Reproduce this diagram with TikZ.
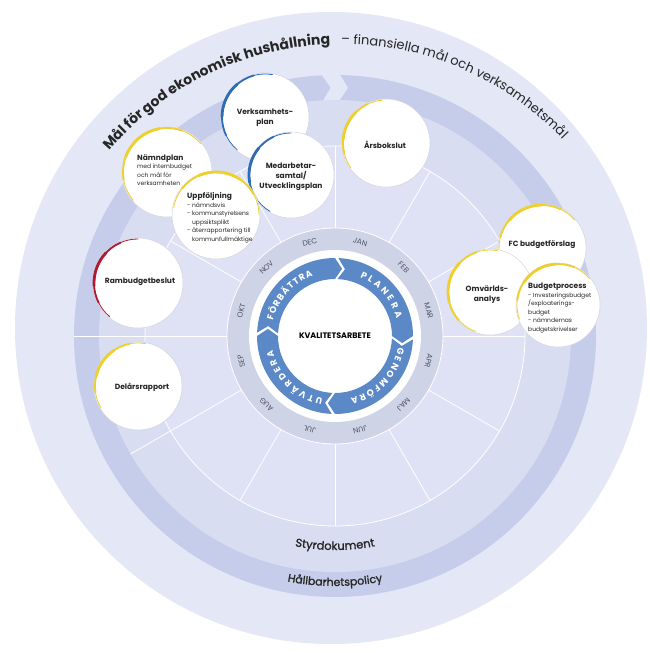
\documentclass[tikz,border=0pt]{standalone}
\usepackage{fontspec}
\setmainfont{Poppins}
\newfontfamily\pmedium[FakeBold=1.3]{Poppins}
\usetikzlibrary{calc,decorations.text}
\definecolor{outerbg}{HTML}{E3E7F6}
\definecolor{bandcol}{HTML}{C5CDEA}
\definecolor{midcol}{HTML}{D8DDF1}
\definecolor{seccol}{HTML}{DEE2F4}
\definecolor{monthcol}{HTML}{CED3E5}
\definecolor{arrowblue}{HTML}{5B88C6}
\definecolor{rimyellow}{HTML}{EFCF2C}
\definecolor{rimblue}{HTML}{2E6CB4}
\definecolor{rimred}{HTML}{B2182F}
\definecolor{rimgrey}{HTML}{D3D5DD}
\definecolor{txt}{HTML}{262626}
\definecolor{monthtxt}{HTML}{4E5466}

\newcommand\rimarc[5]{%
  \pgfmathsetmacro\rimk{(#5-#4)/6}%
  \pgfmathsetmacro\rima{#4+\rimk}%
  \pgfmathsetmacro\rimb{#5-\rimk}%
  \pgfmathsetmacro\rimc{#4+2*\rimk}%
  \pgfmathsetmacro\rimd{#5-2*\rimk}%
  \draw[#3,line width=0.8pt,line cap=round] ($(#1.center)+(#4:#2)$) arc[start angle=#4,end angle=#5,radius=#2];
  \draw[#3,line width=1.8pt,line cap=round] ($(#1.center)+(\rima:#2)$) arc[start angle=\rima,end angle=\rimb,radius=#2];
  \draw[#3,line width=2.8pt,line cap=round] ($(#1.center)+(\rimc:#2)$) arc[start angle=\rimc,end angle=\rimd,radius=#2];
}
\newcommand\arrowseg[2]{%
  \fill[arrowblue] (#1-2.5:78pt) arc[start angle=#1-2.5,end angle=#2,radius=78pt]
    -- (#2-6:67.5pt) -- (#2:57pt) arc[start angle=#2,end angle=#1-2.5,radius=57pt]
    -- (#1-8.5:67.5pt) -- cycle;
}

\begin{document}
\begin{tikzpicture}[x=1pt,y=1pt,
  bubble/.style={circle,fill=white,draw=rimgrey,line width=0.5pt,inner sep=0pt,minimum size=#1},
  btitle/.style={font=\bfseries\fontsize{7.5}{10}\selectfont,text=txt,align=center,inner sep=0pt},
  blist/.style={font=\fontsize{6}{8.5}\selectfont,text=txt,align=left,inner sep=0pt,anchor=west},
  month/.style={font=\fontsize{7.5}{8}\selectfont,text=monthtxt,inner sep=0pt},
  spoke/.style={white,line width=0.8pt}]
\useasboundingbox (0,0) rectangle (649,653);
\fill[white] (0,0) rectangle (649,653);
\fill[outerbg] (331,325) circle[radius=316pt];
\coordinate (C) at (335,317);
\begin{scope}[shift={(C)}]
  \fill[bandcol] (0,0) circle[radius=261pt];
  \fill[outerbg] (93:262pt) -- (91:248.5pt) -- (93:235pt) -- (89:235pt) -- (87:248.5pt) -- (89:262pt) -- cycle;
  \fill[midcol] (0,0) circle[radius=236pt];
  \draw[spoke] (180:190pt) -- (180:261pt);
  \draw[spoke] (210:190pt) -- (210:236pt);
  \fill[seccol] (0,0) circle[radius=190pt];
  \draw[spoke] (0,0) circle[radius=190pt];
  \foreach \a in {0,30,...,330} \draw[spoke] (\a:108pt) -- (\a:190pt);
  \fill[monthcol] (0,0) circle[radius=108pt];
  \draw[spoke] (0,0) circle[radius=108pt];
  \fill[white] (0,0) circle[radius=86pt];
  \foreach \m/\a in {JAN/75,FEB/45,MAR/15,APR/-15,MAJ/-45,JUN/-75,JUL/-105,AUG/-135,SEP/-165,OKT/165,NOV/135,DEC/105}
    \node[month,rotate=\a-90] (m\m) at (\a:97pt) {\m};
  \arrowseg{180}{90}
  \arrowseg{90}{0}
  \arrowseg{0}{-90}
  \arrowseg{-90}{-180}
  \path[decorate,decoration={text along path,text align={fit to path},
    text={|\bfseries\fontsize{9}{9}\selectfont\color{white}|FÖRBÄTTRA}}]
    (166:64pt) arc[start angle=166,end angle=110,radius=64pt];
  \path[decorate,decoration={text along path,text align={fit to path},
    text={|\bfseries\fontsize{9}{9}\selectfont\color{white}|PLANERA}}]
    (67:64pt) arc[start angle=67,end angle=16,radius=64pt];
  \path[decorate,decoration={text along path,text align={fit to path},
    text={|\bfseries\fontsize{9}{9}\selectfont\color{white}|GENOMFÖRA}}]
    (-10:64pt) arc[start angle=-10,end angle=-76,radius=64pt];
  \path[decorate,decoration={text along path,text align={fit to path},
    text={|\bfseries\fontsize{9}{9}\selectfont\color{white}|UTVÄRDERA}}]
    (-101:64pt) arc[start angle=-101,end angle=-167,radius=64pt];
  \node[font=\bfseries\fontsize{8}{8}\selectfont,text=black] (kval) at (0,0) {KVALITETSARBETE};
  \path[decorate,decoration={text along path,text align=center,
    text={|\pmedium\fontsize{11.5}{12}\selectfont\color{txt}|Styrdokument}}]
    (-115:214pt) arc[start angle=-115,end angle=-65,radius=214pt];
  \path[decorate,decoration={text along path,text align=center,
    text={|\pmedium\fontsize{11}{12}\selectfont\color{txt}|Hållbarhetspolicy}}]
    (-115:250pt) arc[start angle=-115,end angle=-65,radius=250pt];
\end{scope}
\begin{scope}[shift={(341,304)}]
  \path[decorate,decoration={text along path,text align=center,
    text={|\bfseries\fontsize{14}{15}\selectfont\color{txt}|Mål för god ekonomisk hushållning}}]
    (140:305pt) arc[start angle=140,end angle=91.5,radius=305pt];
  \path[decorate,decoration={text along path,text align=left,
    text={|\fontsize{13}{14}\selectfont\color{txt}|– finansiella mål och verksamhetsmål}}]
    (90:305pt) arc[start angle=90,end angle=35,radius=305pt];
\end{scope}

% bubbles
\node[bubble=88pt] (vp) at (265,536) {};
\rimarc{vp}{43pt}{rimblue}{80}{230}
\node[btitle] (tvp) at (265,535) {Verksamhets-\\plan};

\node[bubble=86pt] (ma) at (291,478) {};
\rimarc{ma}{42pt}{rimblue}{90}{240}
\node[btitle] (tma) at (291,476) {Medarbetar-\\samtal/\\Utvecklingsplan};

\node[bubble=90pt] (np) at (167,481) {};
\rimarc{np}{44pt}{rimyellow}{40}{220}
\node[blist] (tnp) at (137,483) {{\bfseries\fontsize{7.5}{10}\selectfont Nämndplan}\\ med internbudget\\ och mål för\\ verksamheten};

\node[bubble=88pt] (up) at (216,438) {};
\rimarc{up}{43pt}{rimyellow}{0}{170}
\node[blist] (tup) at (187,435) {{\bfseries\fontsize{7.5}{10}\selectfont Uppföljning}\\ - nämndsvis\\ - kommunstyrelsens\\ \phantom{- }uppsiktsplikt\\ - återrapportering till\\ \phantom{- }kommunfullmäktige};

\node[bubble=88pt] (ab) at (386,510) {};
\rimarc{ab}{43pt}{rimyellow}{95}{215}
\node[btitle] (tab) at (385,508) {Årsbokslut};

\node[bubble=88pt] (fc) at (542,405) {};
\rimarc{fc}{43pt}{rimyellow}{40}{190}
\node[btitle] (tfc) at (542,408) {FC budgetförslag};

\node[bubble=86pt] (ov) at (490,361) {};
\rimarc{ov}{42pt}{rimyellow}{80}{250}
\node[btitle] (tov) at (487,358) {Omvärlds-\\analys};

\node[bubble=84pt] (bp) at (558,348) {};
\rimarc{bp}{41pt}{rimyellow}{40}{200}
\node[blist] (tbp) at (528,345) {{\bfseries\fontsize{7.5}{10}\selectfont Budgetprocess}\\ - Investeringsbudget\\ /exploaterings-\\ budget\\ - nämndernas\\ budgetskrivelser};

\node[bubble=90pt] (rb) at (138,370) {};
\rimarc{rb}{44pt}{rimred}{90}{230}
\node[btitle] (trb) at (140,371) {Rambudgetbeslut};

\node[bubble=88pt] (dr) at (138,267) {};
\rimarc{dr}{43pt}{rimyellow}{80}{210}
\node[btitle] (tdr) at (142,266) {Delårsrapport};
\end{tikzpicture}
\end{document}
